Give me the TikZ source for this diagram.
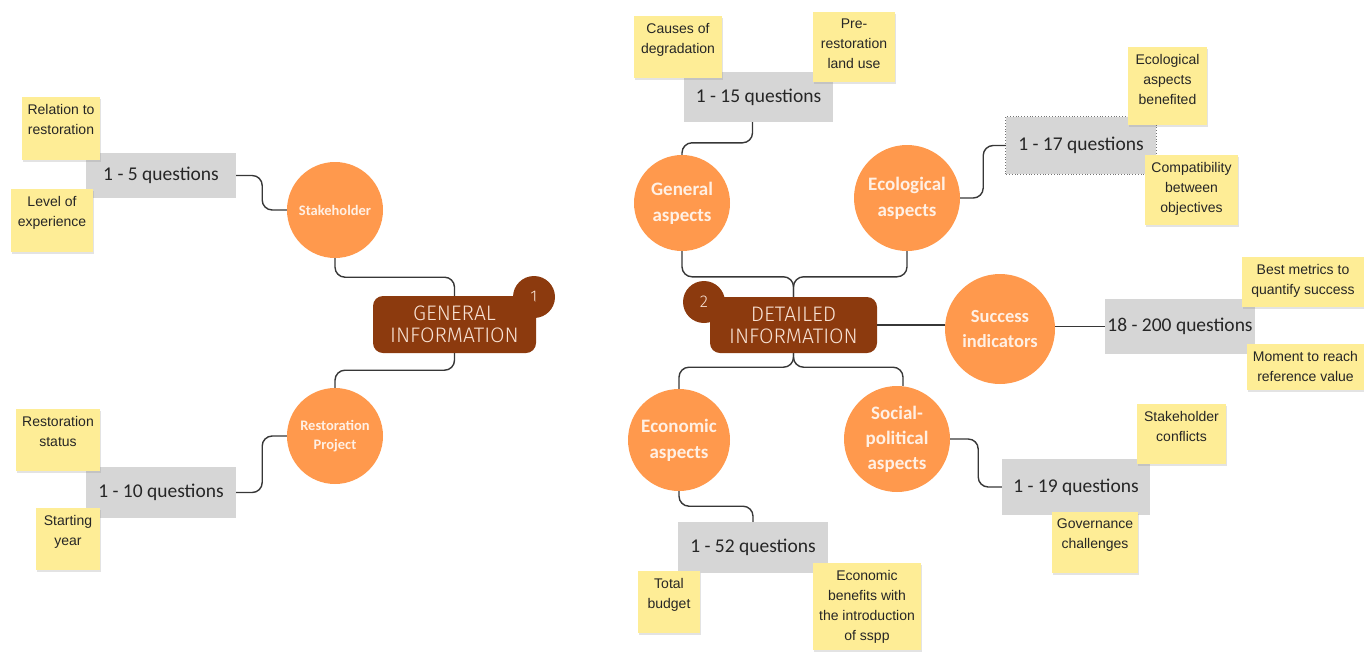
\documentclass[tikz,border=0pt]{standalone}
\usepackage{fontspec}
\setmainfont{Liberation Sans}
\newfontfamily\calib{Carlito}
\newfontfamily\headf{Fira Sans Light}
\usetikzlibrary{shadows}
\definecolor{stickyc}{RGB}{254,237,150}
\definecolor{grayc}{RGB}{214,214,214}
\definecolor{orangec}{RGB}{255,153,77}
\definecolor{brownc}{RGB}{140,58,14}
\definecolor{headtext}{RGB}{248,226,212}
\definecolor{bubtext}{RGB}{255,240,228}
\definecolor{connc}{RGB}{55,55,55}
\tikzset{
  sticky/.style={rectangle, fill=stickyc, inner sep=0pt,
    drop shadow={shadow xshift=0.6pt, shadow yshift=-1.8pt, opacity=0.22, fill=black!50}},
  stickytext/.style={inner sep=0pt, align=center, text=black!85,
    font=\fontsize{14}{20}\selectfont},
  qbox/.style={rectangle, fill=grayc, inner sep=0pt, text=black!85,
    font=\calib\fontsize{19.5}{22}\selectfont},
  bubble/.style={circle, fill=orangec, inner sep=0pt, align=center, text=bubtext},
  headbox/.style={rectangle, rounded corners=10pt, fill=brownc, inner sep=0pt,
    align=center, text=headtext, font=\headf\fontsize{21}{22}\selectfont},
  badge/.style={circle, fill=brownc, inner sep=0pt, minimum size=42pt,
    text=headtext, font=\headf\fontsize{17}{18}\selectfont},
  conn/.style={draw=connc, line width=1.4pt, rounded corners=10pt},
}
\newcommand\qboxat[6]{\node[qbox, minimum width={#4-#2}, minimum height={#5-#3}] (#1) at ({(#2+#4)/2},{(#3+#5)/2}) {#6};}
\newcommand\stickynote[6]{%
  \node[sticky, minimum width={#4-#2}, minimum height={#5-#3}] (#1) at ({(#2+#4)/2},{(#3+#5)/2}) {};
  \node[stickytext, anchor=north] (#1-t) at ({(#2+#4)/2},{#3+7}) {#6};}
\begin{document}
\begin{tikzpicture}[x=1pt,y=-1pt]
\useasboundingbox (0,0) rectangle (1364,651);

% central boxes and badges
\node[badge] (b1) at (534,297) {1};
\node[headbox, minimum width=163pt, minimum height=57pt] (gen) at (454.5,324.5) {GENERAL\\INFORMATION};
\node[badge] (b2) at (704,302) {2};
\node[headbox, minimum width=167pt, minimum height=56pt] (det) at (793.5,325) {DETAILED\\INFORMATION};

% topic bubbles
\node[bubble, minimum size=96pt, font=\calib\bfseries\fontsize{14.5}{19}\selectfont] (stake) at (335,210) {Stakeholder};
\node[bubble, minimum size=96pt, font=\calib\bfseries\fontsize{14.5}{19}\selectfont] (rest) at (335,436) {Restoration\\Project};
\node[bubble, minimum size=96pt, font=\calib\bfseries\fontsize{19}{26}\selectfont] (ga) at (682,203) {General\\aspects};
\node[bubble, minimum size=106pt, font=\calib\bfseries\fontsize{19}{26}\selectfont] (eco) at (907,198) {Ecological\\aspects};
\node[bubble, minimum size=110pt, font=\calib\bfseries\fontsize{18.5}{25}\selectfont] (succ) at (1000,329) {Success\\indicators};
\node[bubble, minimum size=102pt, font=\calib\bfseries\fontsize{19}{26}\selectfont] (ea) at (679,440) {Economic\\aspects};
\node[bubble, minimum size=106pt, font=\calib\bfseries\fontsize{19}{25}\selectfont] (sp) at (897,439) {Social-\\political\\aspects};

% question boxes
\qboxat{q5}{86}{153}{236}{198}{1 - 5 questions}
\qboxat{q10}{86}{467}{236}{518}{1 - 10 questions}
\qboxat{q15}{684}{72}{833}{122}{1 - 15 questions}
\qboxat{q17}{1006}{117}{1156}{174}{1 - 17 questions}
\draw[black!55, dotted, line width=0.8pt] (q17.south west) rectangle (q17.north east);
\qboxat{q18}{1105}{299}{1255}{354}{18 - 200 questions}
\qboxat{q19}{1002}{459}{1150}{515}{1 - 19 questions}
\qboxat{q52}{678}{522}{828}{573}{1 - 52 questions}

% connectors
\draw[conn] (q5.east) -- ++(26,0) |- (stake.west);
\draw[conn] (q10.east) -- ++(26,0) |- (rest.west);
\draw[conn] (stake.south) -- ++(0,19) -| (gen.north);
\draw[conn] (gen.south) -- ++(0,17) -| (rest.north);
\draw[conn] (det.north) -- ++(0,-20) -| (ga.south);
\draw[conn] (det.north) -- ++(0,-20) -| (eco.south);
\draw[conn] (det.south) -- ++(0,14) -| (ea.north);
\draw[conn] (det.south) -- ++(0,14) -| ([xshift=6pt]sp.north);
\draw[conn] (det.east) -- (det.east -| succ.west);
\draw[conn] (succ.east |- q18.west) -- (q18.west);
\draw[conn] (ga.north) -- ++(0,-12) -| ([xshift=-6pt]q15.south);
\draw[conn] (eco.east) -- ++(23,0) |- (q17.west);
\draw[conn] (ea.south) -- ++(0,15) -| (q52.north);
\draw[conn] (sp.east) -- ++(28,0) |- (q19.west);

% sticky notes
\stickynote{srel}{22}{97}{100}{160}{Relation to\\restoration}
\stickynote{slev}{11}{189}{93}{252}{Level of\\experience}
\stickynote{sstat}{16}{409}{100}{471}{Restoration\\status}
\stickynote{sstart}{36}{508}{100}{570}{Starting\\year}
\stickynote{scause}{634}{16}{722}{78}{Causes of\\degradation}
\stickynote{spre}{813}{12}{895}{82}{Pre-\\restoration\\land use}
\stickynote{secob}{1128}{47}{1207}{125}{Ecological\\aspects\\benefited}
\stickynote{scomp}{1145}{155}{1238}{225}{Compatibility\\between\\objectives}
\stickynote{sbest}{1242}{257}{1364}{307}{Best metrics to\\quantify success}
\stickynote{smom}{1247}{344}{1364}{390}{Moment to reach\\reference value}
\stickynote{sconf}{1137}{404}{1226}{464}{Stakeholder\\conflicts}
\stickynote{sgov}{1052}{512}{1138}{573}{Governance\\challenges}
\stickynote{sbud}{638}{571}{700}{633}{Total\\budget}
\stickynote{secon}{813}{563}{921}{650}{Economic\\benefits with\\the introduction\\of sspp}
\end{tikzpicture}
\end{document}
